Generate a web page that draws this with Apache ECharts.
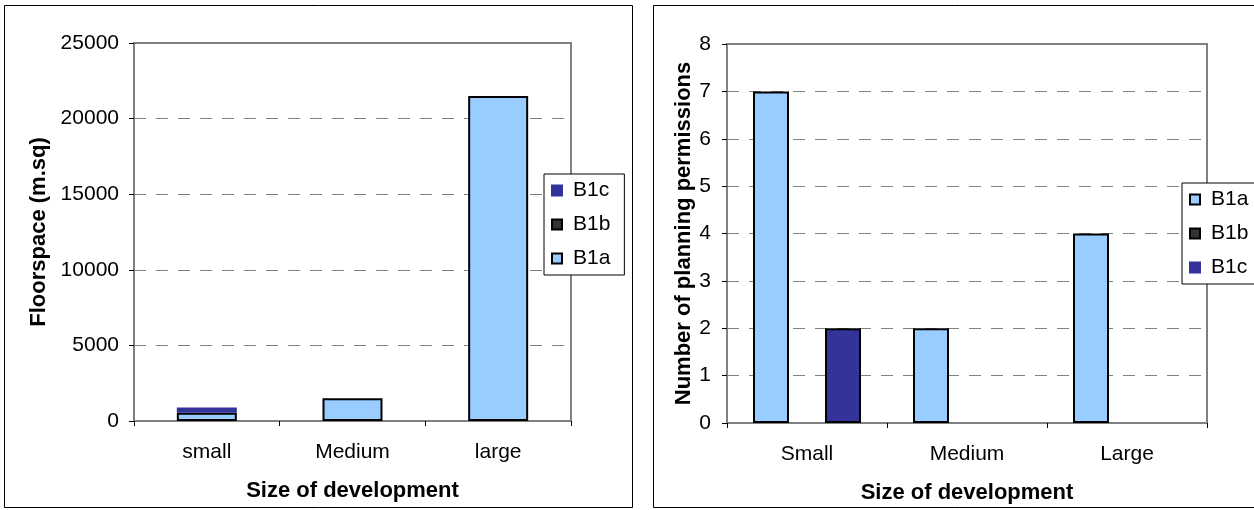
<!DOCTYPE html>
<html><head><meta charset="utf-8">
<script src="https://cdn.jsdelivr.net/npm/echarts@6/dist/echarts.min.js"></script>
<style>html,body{margin:0;padding:0;background:#fff;overflow:hidden}#c{width:1254px;height:510px}</style>
</head><body><div id="c"></div>
<script>
// Left chart: floorspace by size (stacked)
const leftCategories = ['small', 'Medium', 'large'];
const leftB1a = [550, 1500, 21500];
const leftB1b = [null, null, null];
const leftB1c = [350, null, null];
const leftYMax = 25000;
const leftYInterval = 5000;

// Right chart: number of planning permissions (clustered)
const rightCategories = ['Small', 'Medium', 'Large'];
const rightB1a = [7, 2, 4];
const rightB1b = [null, null, null];
const rightB1c = [2, null, null];
const rightYMax = 8;
const rightYInterval = 1;

const colors = { B1a: '#99CCFF', B1b: '#333333', B1c: '#333399' };
const FONT = 'Liberation Sans, Arial, sans-serif';
const FS = 21, TFS = 22;

const chart = echarts.init(document.getElementById('c'), null, { renderer: 'canvas' });

function yAxisCfg(gridIndex, max, interval, name, nameGap, labelMargin) {
  return {
    type: 'value', gridIndex, min: 0, max, interval,
    name, nameLocation: 'middle', nameGap,
    nameTextStyle: { fontFamily: FONT, fontSize: TFS, fontWeight: 'bold', color: '#000' },
    axisLine: { show: true, lineStyle: { color: '#808080', width: 2 } },
    axisTick: { show: true, length: 5, lineStyle: { color: '#000', width: 1 } },
    axisLabel: { fontFamily: FONT, fontSize: FS, color: '#000', margin: labelMargin, formatter: v => String(v) },
    splitLine: { show: true, lineStyle: { color: '#808080', width: 1, type: [12, 10] } }
  };
}
function xAxisCfg(gridIndex, data) {
  return {
    type: 'category', gridIndex, data,
    name: 'Size of development', nameLocation: 'middle', nameGap: 59,
    nameTextStyle: { fontFamily: FONT, fontSize: TFS, fontWeight: 'bold', color: '#000' },
    axisLine: { show: true, lineStyle: { color: '#808080', width: 2 } },
    axisTick: { show: true, length: 5, alignWithLabel: false, lineStyle: { color: '#000', width: 1 } },
    axisLabel: { fontFamily: FONT, fontSize: FS, color: '#000', margin: 21 },
    splitLine: { show: false }
  };
}
function barStyle(name) {
  return { color: colors[name], borderColor: '#000', borderWidth: 2 };
}
function legendCfg(data, left, top) {
  return {
    data, orient: 'vertical', left, top, itemGap: 13,
    icon: 'rect', itemWidth: 10, itemHeight: 10,
    padding: [6, 14, 6, 7], borderColor: '#000', borderWidth: 1, backgroundColor: '#fff',
    selectedMode: false,
    textStyle: { fontFamily: FONT, fontSize: FS, color: '#000', padding: [0, 0, 0, 6] }
  };
}

chart.setOption({
  animation: false,
  backgroundColor: '#fff',
  graphic: [
    { type: 'rect', shape: { x: 4.5, y: 5.5, width: 628, height: 502 }, style: { fill: 'none', stroke: '#000', lineWidth: 1 }, silent: true, z: -10 },
    { type: 'rect', shape: { x: 653.5, y: 5.5, width: 640, height: 502 }, style: { fill: 'none', stroke: '#000', lineWidth: 1 }, silent: true, z: -10 }
  ],
  grid: [
    { left: 134, right: 683, top: 43, bottom: 89, show: true, borderColor: '#808080', borderWidth: 2, containLabel: false },
    { left: 727, right: 47, top: 44, bottom: 87, show: true, borderColor: '#808080', borderWidth: 2, containLabel: false }
  ],
  legend: [
    legendCfg(['B1c', 'B1b', 'B1a'], 544, 174),
    legendCfg(['B1a', 'B1b', 'B1c'], 1182, 183)
  ],
  xAxis: [xAxisCfg(0, leftCategories), xAxisCfg(1, rightCategories)],
  yAxis: [
    yAxisCfg(0, leftYMax, leftYInterval, 'Floorspace (m.sq)', 84, 15),
    yAxisCfg(1, rightYMax, rightYInterval, 'Number of planning permissions', 28, 16)
  ],
  series: [
    { name: 'B1a', type: 'bar', xAxisIndex: 0, yAxisIndex: 0, stack: 'L', data: leftB1a, barWidth: 60, itemStyle: barStyle('B1a') },
    { name: 'B1b', type: 'bar', xAxisIndex: 0, yAxisIndex: 0, stack: 'L', data: leftB1b, barWidth: 60, itemStyle: barStyle('B1b') },
    { name: 'B1c', type: 'bar', xAxisIndex: 0, yAxisIndex: 0, stack: 'L', data: leftB1c, barWidth: 60, itemStyle: { color: colors.B1c, borderColor: colors.B1c, borderWidth: 1.5 } },
    { name: 'B1a', type: 'bar', xAxisIndex: 1, yAxisIndex: 1, data: rightB1a, barWidth: 36, barGap: '0%', itemStyle: barStyle('B1a') },
    { name: 'B1b', type: 'bar', xAxisIndex: 1, yAxisIndex: 1, data: rightB1b, barWidth: 36, barGap: '0%', itemStyle: barStyle('B1b') },
    { name: 'B1c', type: 'bar', xAxisIndex: 1, yAxisIndex: 1, data: rightB1c, barWidth: 36, barGap: '0%', itemStyle: barStyle('B1c') }
  ]
});
</script>
</body></html>
